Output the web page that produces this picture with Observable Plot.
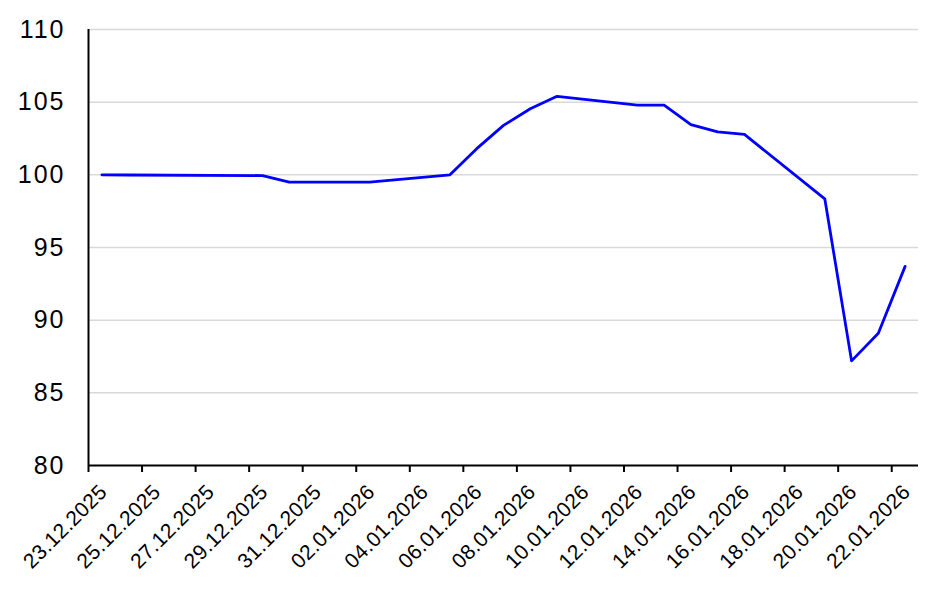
<!DOCTYPE html>
<html>
<head>
<meta charset="utf-8">
<script src="https://cdn.jsdelivr.net/npm/d3@7"></script>
<script src="https://cdn.jsdelivr.net/npm/@observablehq/plot@0.6"></script>
<style>
  html, body { margin: 0; padding: 0; background: #ffffff; }
  #chart { width: 947px; height: 593px; }
  #chart g[aria-label="y-axis tick label"] text { letter-spacing: 2px; }
  #chart g[aria-label="x-axis tick label"] text { letter-spacing: 0.3px; }
</style>
</head>
<body>
<div id="chart"></div>
<script>
// Daily index values (trading days only)
const dates = [
  "2025-12-23", "2025-12-24", "2025-12-29", "2025-12-30", "2025-12-31",
  "2026-01-02", "2026-01-05", "2026-01-06", "2026-01-07", "2026-01-08",
  "2026-01-09", "2026-01-12", "2026-01-13", "2026-01-14", "2026-01-15",
  "2026-01-16", "2026-01-19", "2026-01-20", "2026-01-21", "2026-01-22"
];
const values = [
  100.0, 99.99, 99.95, 99.5, 99.5,
  99.5, 100.0, 101.8, 103.4, 104.55,
  105.4, 104.8, 104.8, 103.45, 102.95,
  102.78, 98.35, 87.2, 89.1, 93.7
];
const xTickLabels = [
  "2025-12-23", "2025-12-25", "2025-12-27", "2025-12-29", "2025-12-31",
  "2026-01-02", "2026-01-04", "2026-01-06", "2026-01-08", "2026-01-10",
  "2026-01-12", "2026-01-14", "2026-01-16", "2026-01-18", "2026-01-20",
  "2026-01-22"
];
const yTicks = [80, 85, 90, 95, 100, 105, 110];
const xStart = "2025-12-23";
const xEnd = "2026-01-23";

const day = s => new Date(s + "T00:00:00Z");
// each value sits in the middle of its day's category
const data = dates.map((d, i) => ({date: d3.utcHour.offset(day(d), 12), value: values[i]}));
const xTicks = xTickLabels.map(day);

const chart = Plot.plot({
  width: 947,
  height: 593,
  marginLeft: 88,
  marginRight: 29,
  marginTop: 29,
  marginBottom: 128,
  style: {fontFamily: "'Liberation Sans', Arial, sans-serif", background: "#ffffff", color: "#000000"},
  x: {type: "utc", domain: [day(xStart), day(xEnd)]},
  y: {domain: [yTicks[0], yTicks[yTicks.length - 1]]},
  marks: [
    Plot.gridY(yTicks.slice(1), {stroke: "#d9d9d9", strokeOpacity: 1, strokeWidth: 1.5}),
    Plot.axisY({ticks: yTicks, tickSize: 0, tickPadding: 23, fontSize: 25, label: null}),
    // tick marks only
    Plot.axisX({ticks: xTicks, tickSize: 7, strokeWidth: 2, tickFormat: () => "", label: null}),
    // rotated tick labels only
    Plot.axisX({
      ticks: xTicks,
      tickFormat: d3.utcFormat("%d.%m.%Y"),
      tickRotate: -45,
      tickSize: 0,
      tickPadding: 11,
      fontSize: 21,
      dx: 15,
      dy: 12,
      label: null
    }),
    Plot.ruleX([day(xStart)], {stroke: "#000000", strokeWidth: 2}),
    Plot.ruleY([yTicks[0]], {stroke: "#000000", strokeWidth: 2}),
    Plot.line(data, {x: "date", y: "value", stroke: "#0000ff", strokeWidth: 2.8})
  ]
});
document.getElementById("chart").appendChild(chart);
</script>
</body>
</html>
